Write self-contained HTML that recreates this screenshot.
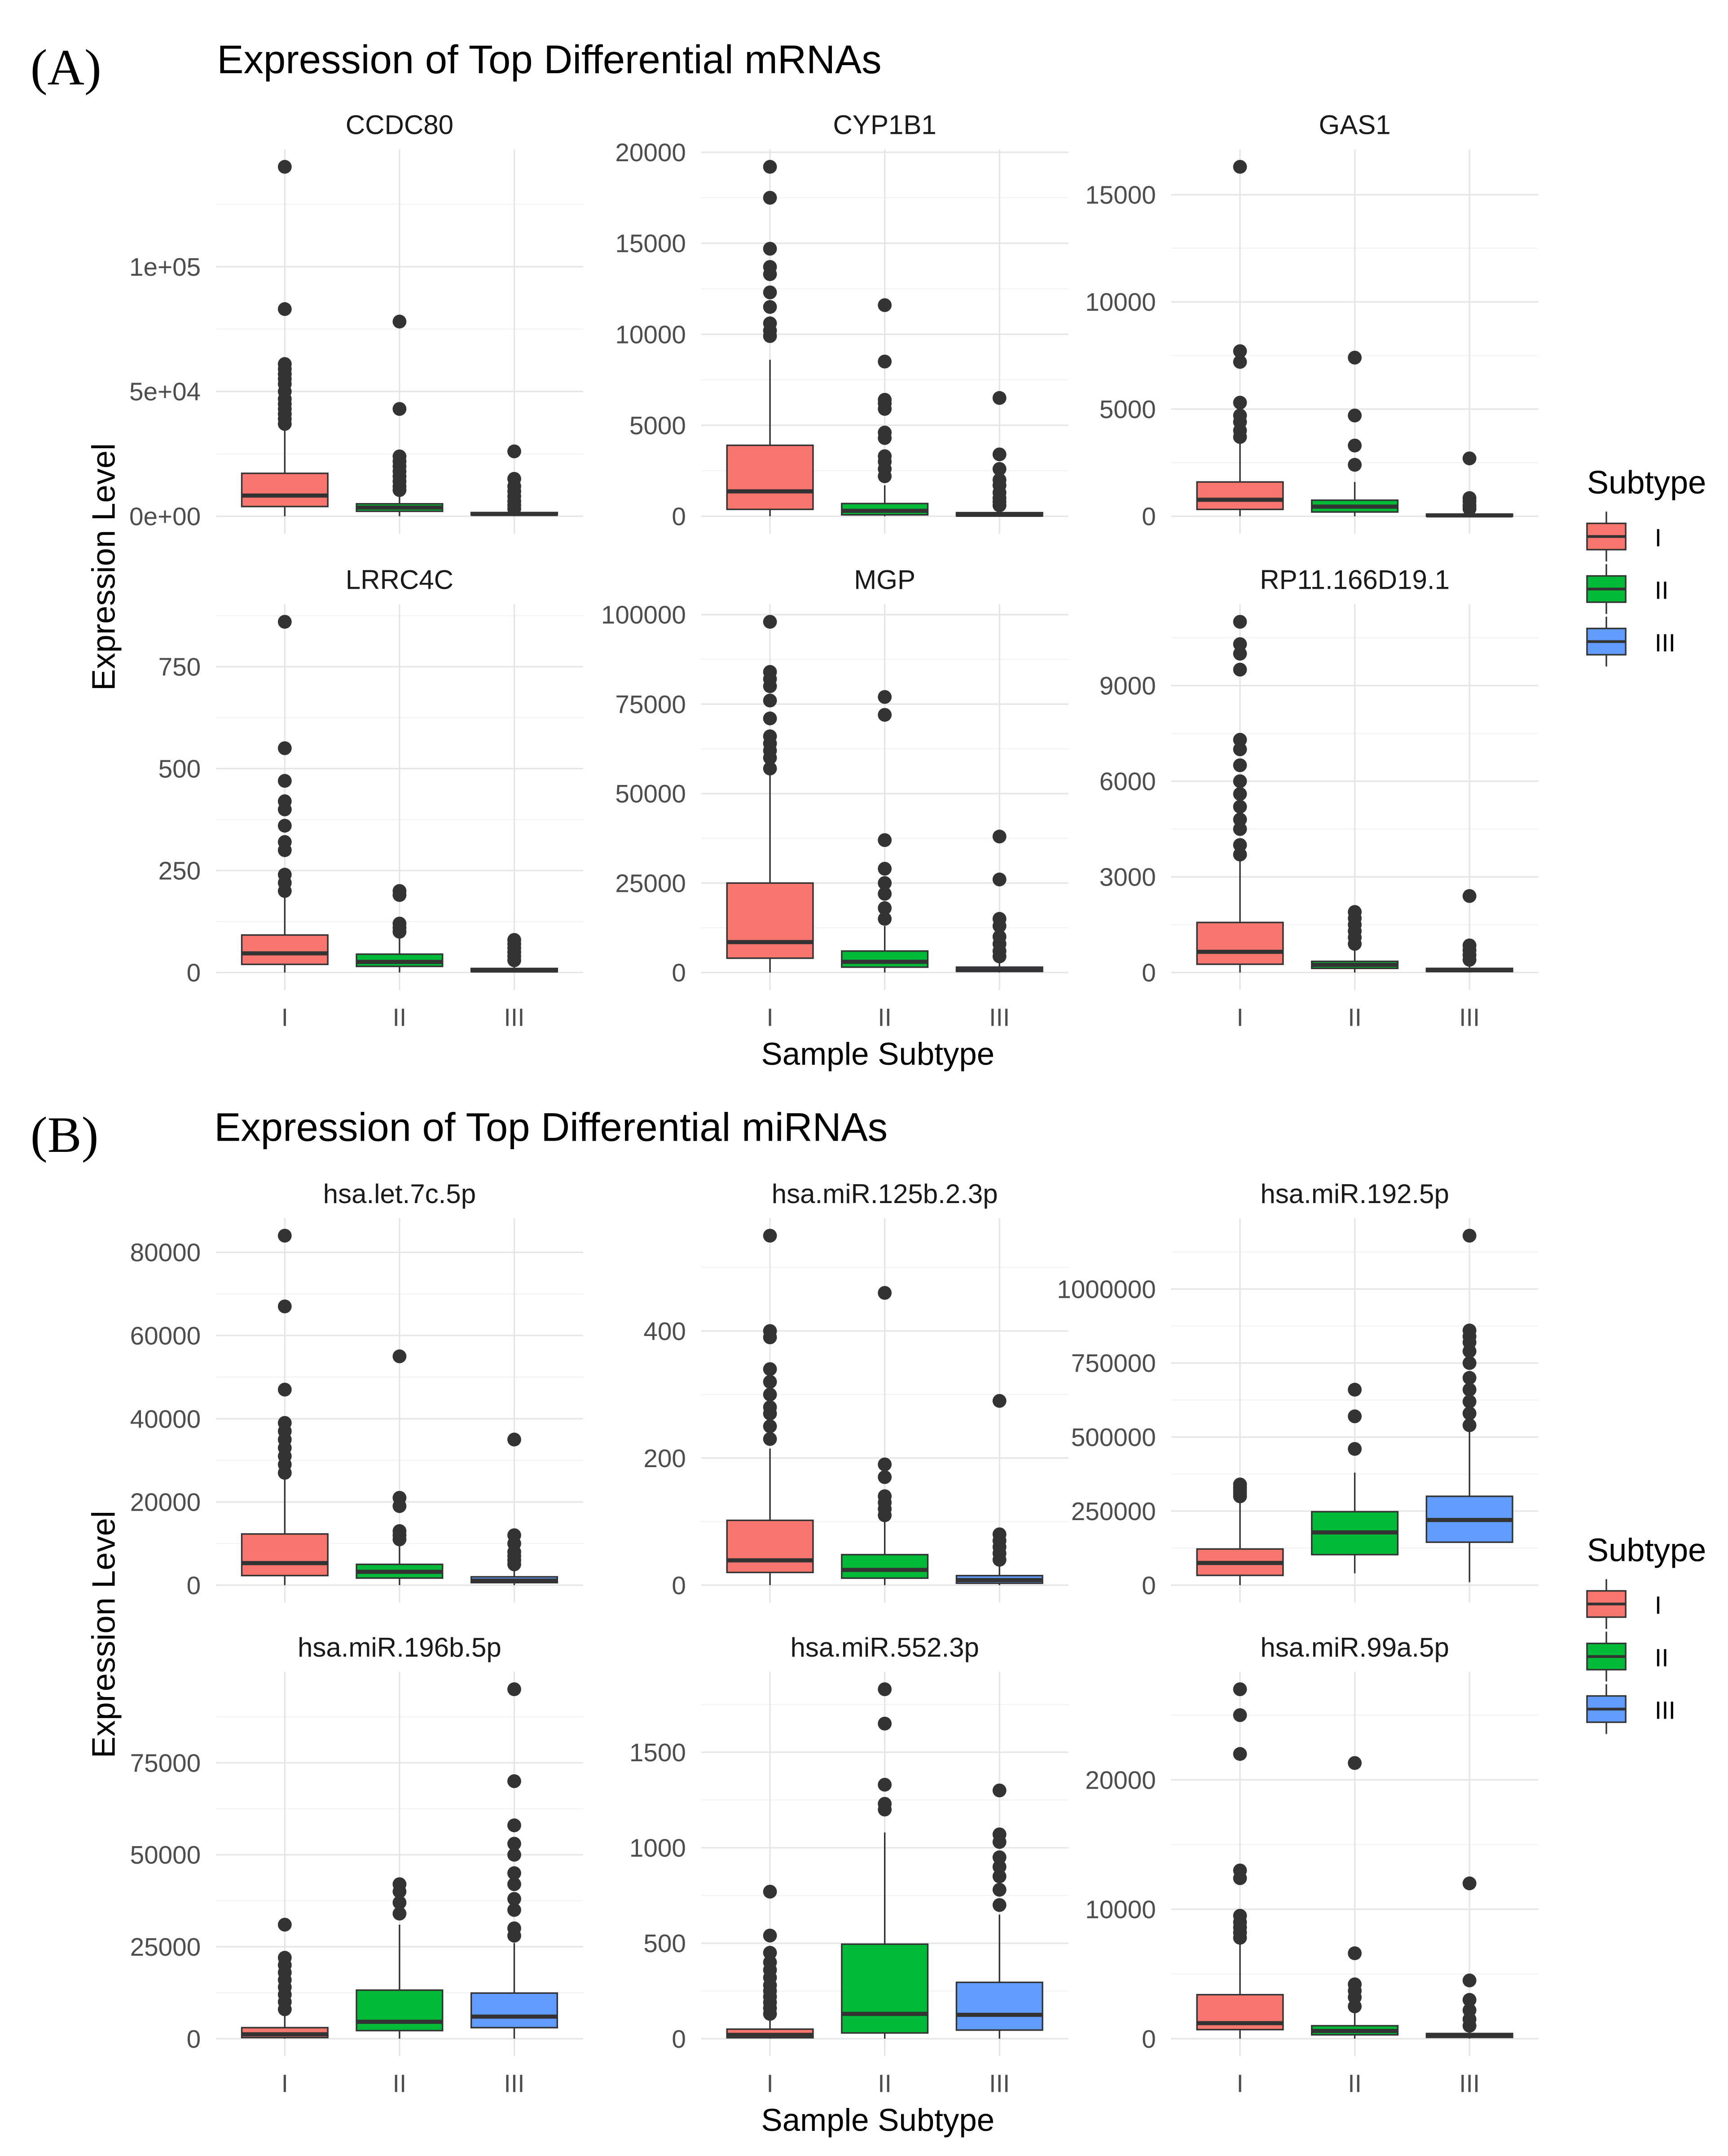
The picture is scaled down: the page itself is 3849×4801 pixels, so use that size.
<!DOCTYPE html>
<html><head><meta charset="utf-8"><style>
html,body{margin:0;padding:0;background:#fff;}
svg{display:block;}
text{font-family:"Liberation Sans",sans-serif;}
</style></head><body>
<svg id="fig" width="3849" height="4801" viewBox="0 0 1250 1559.2" preserveAspectRatio="none" xmlns="http://www.w3.org/2000/svg">
<rect width="1250" height="1560" fill="#fff"/>
<text x="22" y="61" font-size="37" fill="#000" style="font-family:'Liberation Serif',serif">(A)</text>
<text x="157" y="53" font-size="28.8" fill="#000">Expression of Top Differential mRNAs</text>
<text x="22" y="833" font-size="37" fill="#000" style="font-family:'Liberation Serif',serif">(B)</text>
<text x="155" y="825" font-size="28.8" fill="#000">Expression of Top Differential miRNAs</text>
<text transform="translate(83,410) rotate(-90)" text-anchor="middle" font-size="23.5" fill="#000">Expression Level</text>
<text transform="translate(83,1182) rotate(-90)" text-anchor="middle" font-size="23.5" fill="#000">Expression Level</text>
<text x="635" y="770" text-anchor="middle" font-size="23" fill="#000">Sample Subtype</text>
<text x="635" y="1541" text-anchor="middle" font-size="23" fill="#000">Sample Subtype</text>
<g id="plots"></g>
</svg>
<script>
// categories
const categories = ["I","II","III"];
const colors = ["#F8766D","#00BA38","#619CFF"];
// panel names
const panelNames = ["CCDC80","CYP1B1","GAS1","LRRC4C","MGP","RP11.166D19.1",
 "hsa.let.7c.5p","hsa.miR.125b.2.3p","hsa.miR.192.5p","hsa.miR.196b.5p","hsa.miR.552.3p","hsa.miR.99a.5p"];
// box stats per panel: [q1, median, q3, whiskerLo, whiskerHi] for I, II, III
const boxStats = [
 [[3900,8300,17200,0,35500],[2000,3500,5000,0,10000],[500,900,1500,0,2800]],
 [[380,1370,3900,0,8600],[80,300,700,0,1700],[20,80,200,0,500]],
 [[320,770,1600,0,3500],[200,450,750,0,1600],[10,40,100,0,250]],
 [[20,47,92,0,190],[15,26,45,0,95],[2,5,10,0,25]],
 [[4000,8500,25000,0,55800],[1500,3000,6000,0,13000],[300,700,1500,0,3500]],
 [[260,650,1570,0,3600],[130,240,350,0,800],[30,80,130,0,300]],
 [[2300,5300,12300,0,26000],[1700,3200,5000,0,10000],[600,1100,2000,0,4000]],
 [[20,39,102,0,215],[11,24,48,0,100],[3,8,15,0,35]],
 [[33000,75000,122000,0,290000],[103000,178000,248000,40000,380000],[145000,220000,300000,10000,520000]],
 [[300,1200,3000,0,6500],[2200,4600,13200,0,31000],[3000,6000,12400,0,26000]],
 [[5,20,50,0,120],[30,130,495,0,1080],[45,125,295,0,650]],
 [[700,1200,3400,0,7500],[300,600,1000,0,2000],[100,250,400,0,800]]
];
// outliers per panel per category
const outliers = [
 [[37000,39000,41000,43000,45000,47000,50000,53000,55000,57000,59000,61000,83000,140000],[10500,12000,14000,16000,18000,20000,22000,24000,43000,78000],[3000,4500,6000,8000,10000,12000,15000,26000]],
 [[9900,10200,10600,11500,12300,13300,13700,14700,17500,19200],[2200,2600,3000,3300,4300,4600,5900,6200,6400,8500,11600],[600,800,1000,1300,1700,2000,2600,3400,6500]],
 [[3700,4000,4400,4700,5300,7200,7700,16300],[2400,3300,4700,7400],[350,500,700,850,2700]],
 [[200,220,240,300,320,360,400,420,470,550,860],[100,110,120,190,200],[30,40,50,60,70,80]],
 [[57000,60000,62000,64000,66000,71000,76000,80000,82000,84000,98000],[15000,18000,22000,25000,29000,37000,72000,77000],[4500,6000,8000,10000,13000,15000,26000,38000]],
 [[3700,4000,4500,4800,5200,5600,6000,6500,7000,7300,9500,10000,10300,11000],[900,1100,1300,1500,1700,1900],[400,550,700,850,2400]],
 [[27000,29000,31000,33000,35000,37000,39000,47000,67000,84000],[11000,12000,13000,19000,21000,55000],[5000,6000,7000,8000,10000,12000,35000]],
 [[230,250,270,280,300,320,340,390,400,550],[110,120,130,140,170,190,460],[40,50,60,70,80,290]],
 [[300000,310000,320000,330000,340000],[460000,570000,660000],[540000,580000,620000,660000,700000,750000,790000,820000,840000,860000,1180000]],
 [[8000,10000,12000,14000,16000,18000,20000,22000,31000],[34000,37000,40000,42000],[28000,30000,35000,38000,42000,45000,50000,53000,58000,70000,95000]],
 [[130,160,190,220,250,280,320,360,400,450,540,770],[1200,1230,1330,1650,1830],[700,780,850,900,950,1030,1070,1300]],
 [[7800,8200,8600,9000,9500,12400,13000,22000,25000,27000],[2500,3200,3700,4200,6600,21300],[1000,1500,2200,3000,4500,12000]]
];
// y tick values per panel
const yTicks = [
 [0,50000,100000],[0,5000,10000,15000,20000],[0,5000,10000,15000],
 [0,250,500,750],[0,25000,50000,75000,100000],[0,3000,6000,9000],
 [0,20000,40000,60000,80000],[0,200,400],[0,250000,500000,750000,1000000],
 [0,25000,50000,75000],[0,500,1000,1500],[0,10000,20000]
];
// y tick labels per panel
const yTickLabels = [
 ["0e+00","5e+04","1e+05"],["0","5000","10000","15000","20000"],["0","5000","10000","15000"],
 ["0","250","500","750"],["0","25000","50000","75000","100000"],["0","3000","6000","9000"],
 ["0","20000","40000","60000","80000"],["0","200","400"],["0","250000","500000","750000","1000000"],
 ["0","25000","50000","75000"],["0","500","1000","1500"],["0","10000","20000"]
];

const NS="http://www.w3.org/2000/svg";
const root=document.getElementById('plots');
function mk(tag,attrs,parent){const e=document.createElementNS(NS,tag);for(const k in attrs)e.setAttribute(k,attrs[k]);(parent||root).appendChild(e);return e;}
const colX=[206,557,897];
const rowY=[[108,386],[437,716],[881,1159],[1209,1487]];
const step=83;
for(let p=0;p<12;p++){
  const col=p%3,row=Math.floor(p/3);
  const g=mk('g',{});
  
  
  const [top,bot]=rowY[row];const H=bot-top;
  let hi=0;boxStats[p].forEach(b=>hi=Math.max(hi,b[4]));outliers[p].forEach(o=>o.forEach(v=>hi=Math.max(hi,v)));
  const lo=0;const r=hi-lo;
  const y=v=>bot-((v-(lo-0.05*r))/(1.1*r))*H;
  const x=i=>colX[col]+i*step;
  const left=x(0)-0.6*step,right=x(2)+0.6*step;
  const ts=yTicks[p];const d=ts[1]-ts[0];
  for(let v=ts[0]-d/2;v<=hi*1.06+d;v+=d){const yy=y(v);if(yy<top||yy>bot)continue;
    const l=mk('line',{x1:left,x2:right,y1:yy,y2:yy,stroke:'#f3f3f3','stroke-width':0.8},g);
    }
  ts.forEach((v,i)=>{const yy=y(v);
    const l=mk('line',{x1:left,x2:right,y1:yy,y2:yy,stroke:'#e6e6e6','stroke-width':1.1},g);
    
    const t=mk('text',{x:left-11,y:yy+6.5,'text-anchor':'end','font-size':18.4,fill:'#4d4d4d'},g);t.textContent=yTickLabels[p][i];
    });
  categories.forEach((c,i)=>{
    const l=mk('line',{x1:x(i),x2:x(i),y1:top,y2:bot,stroke:'#e6e6e6','stroke-width':1.1},g);
    
    if(row%2===1){
      const t=mk('text',{x:x(i),y:bot+26,'text-anchor':'middle','font-size':18,fill:'#4d4d4d'},g);t.textContent=c;
      
    }
  });
  const st=mk('text',{x:x(1),y:top-11,'text-anchor':'middle','font-size':19.5,fill:'#1a1a1a'},g);st.textContent=panelNames[p];
  
  categories.forEach((c,i)=>{
    const [q1,med,q3,wl,wh]=boxStats[p][i];const bw=0.75*step;
    const w1=mk('line',{x1:x(i),x2:x(i),y1:y(q3),y2:y(wh),stroke:'#333','stroke-width':1.1},g);
    
    const w2=mk('line',{x1:x(i),x2:x(i),y1:y(q1),y2:y(wl),stroke:'#333','stroke-width':1.1},g);
    
    const h=Math.max(y(q1)-y(q3),1.5);
    const b=mk('rect',{x:x(i)-bw/2,y:y(q3),width:bw,height:h,fill:colors[i],stroke:'#333','stroke-width':1.1},g);
    
    const m=mk('line',{x1:x(i)-bw/2,x2:x(i)+bw/2,y1:y(med),y2:y(med),stroke:'#333','stroke-width':3},g);
    
    outliers[p][i].forEach(v=>{const o=mk('circle',{cx:x(i),cy:y(v),r:5,fill:'#333'},g);
      });
  });
}
[0,772].forEach(off=>{
  const g=mk('g',{});
  
  const t=mk('text',{x:1148,y:357+off,'font-size':23.5,fill:'#000'},g);t.textContent='Subtype';
  
  categories.forEach((c,i)=>{const cy=388+i*38+off;
    const l=mk('line',{x1:1162,x2:1162,y1:cy-18,y2:cy+18,stroke:'#333','stroke-width':1.1},g);
    
    const r=mk('rect',{x:1148,y:cy-9.5,width:28,height:19,fill:colors[i],stroke:'#333','stroke-width':1.1},g);
    
    const m=mk('line',{x1:1148,x2:1176,y1:cy,y2:cy,stroke:'#333','stroke-width':2},g);
    
    const tt=mk('text',{x:1197,y:cy+7,'font-size':18,fill:'#000'},g);tt.textContent=c;
    
  });
});
</script>
</body></html>
